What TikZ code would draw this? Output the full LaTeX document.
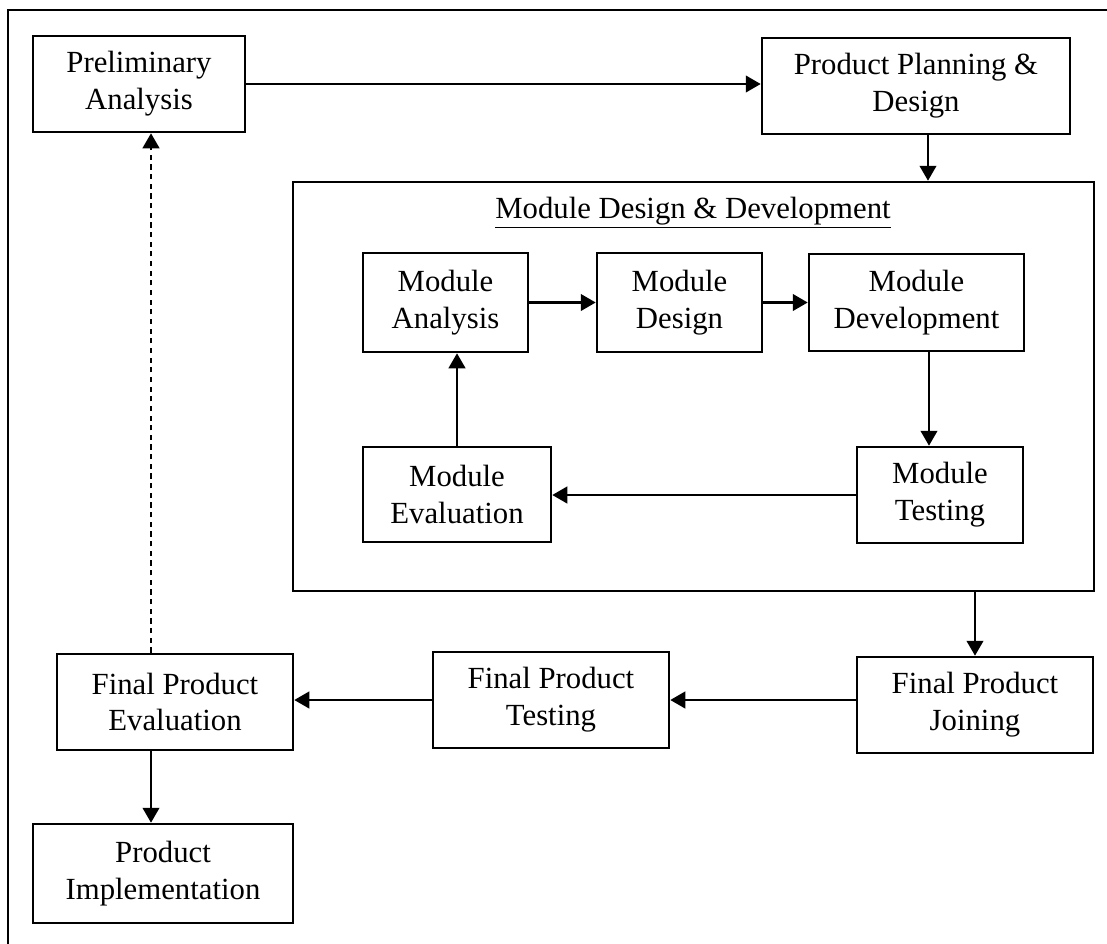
\documentclass[tikz,border=0pt]{standalone}
\usepackage{fontspec}
\setmainfont{Liberation Serif}
\usetikzlibrary{arrows.meta}

\begin{document}
\begin{tikzpicture}[x=0.02cm,y=-0.02cm,
    box/.style={draw,line width=1.5pt,align=center,inner sep=0pt,
      font=\fontsize{17.5}{21}\selectfont},
    arr/.style={line width=1.2pt,-{Triangle[length=8.5pt,width=9.5pt]}},
    darr/.style={arr,dash pattern=on 3pt off 2.5pt}]
    \useasboundingbox (0,0) rectangle (1107,944);
    % frame
    \draw[line width=1.5pt] (8,944) -- (8,10) -- (1107,10);
    % top row
    \node[box,minimum width=212*0.02cm,minimum height=96*0.02cm] (prelim) at (139,84) {Preliminary\\Analysis};
    \node[box,minimum width=308*0.02cm,minimum height=96*0.02cm] (planning) at (916,86) {Product Planning \&\\Design};
    % module block
    \node[draw,line width=1.5pt,minimum width=801*0.02cm,minimum height=409*0.02cm,inner sep=0pt] (mdd) at (693.5,386.5) {};
    \node[font=\fontsize{17.5}{21}\selectfont] (mddtitle) at (693,213) {\underline{Module Design \& Development}};
    \node[box,minimum width=165*0.02cm,minimum height=99*0.02cm] (manalysis) at (445.5,302.5) {Module\\Analysis};
    \node[box,minimum width=165*0.02cm,minimum height=99*0.02cm] (mdesign) at (679.5,302.5) {Module\\Design};
    \node[box,minimum width=215*0.02cm,minimum height=97*0.02cm] (mdev) at (916.5,302.5) {Module\\Development};
    \node[box,minimum width=166*0.02cm,minimum height=96*0.02cm] (mtest) at (940,495) {Module\\Testing};
    \node[box,minimum width=188*0.02cm,minimum height=95*0.02cm] (meval) at (457,494.5) {Module\\Evaluation};
    % final product row
    \node[box,minimum width=236*0.02cm,minimum height=96*0.02cm] (fjoin) at (975,705) {Final Product\\Joining};
    \node[box,minimum width=236*0.02cm,minimum height=96*0.02cm] (ftest) at (551,700) {Final Product\\Testing};
    \node[box,minimum width=236*0.02cm,minimum height=96*0.02cm] (feval) at (175,702) {Final Product\\Evaluation};
    \node[box,minimum width=260*0.02cm,minimum height=99*0.02cm] (impl) at (163,873.5) {Product\\Implementation};

    % connectors
    \draw[arr] (prelim.east) -- (prelim.east -| planning.west);
    \draw[arr] ([xshift=0.24cm]planning.south) -- ([xshift=0.24cm]planning.south |- mdd.north);
    \draw[arr] (manalysis.east) -- (mdesign.west);
    \draw[arr] (mdesign.east) -- (mdev.west);
    \draw[arr] ([xshift=-0.22cm]mtest.north |- mdev.south) -- ([xshift=-0.22cm]mtest.north);
    \draw[arr] (mtest.west) -- (mtest.west -| meval.east);
    \draw[arr] (meval.north) -- (meval.north |- manalysis.south);
    \draw[arr] (fjoin.north |- mdd.south) -- (fjoin.north);
    \draw[arr] (ftest.east -| fjoin.west) -- (ftest.east);
    \draw[arr] (ftest.west) -- (ftest.west -| feval.east);
    \draw[arr] ([xshift=-0.48cm]feval.south) -- ([xshift=-0.48cm]feval.south |- impl.north);
    \draw[darr] ([xshift=-0.48cm]feval.north) -- ([xshift=-0.48cm]feval.north |- prelim.south);
\end{tikzpicture}
\end{document}
